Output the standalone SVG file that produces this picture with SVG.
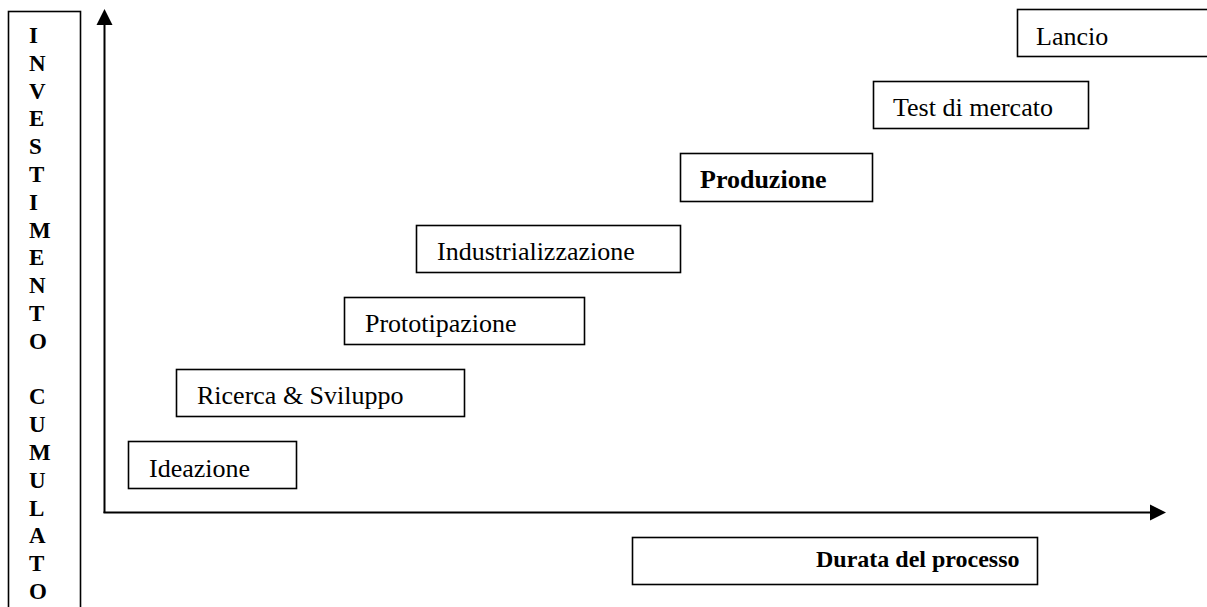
<svg xmlns="http://www.w3.org/2000/svg" width="1207" height="607" viewBox="0 0 1207 607">
<style>
.box{fill:#fff;stroke:#000;stroke-width:1.6}
.t{font-family:"Liberation Serif","Times New Roman",serif;font-size:26px;fill:#000}
.b{font-weight:bold}
.v{font-family:"Liberation Serif","Times New Roman",serif;font-size:23px;font-weight:bold;fill:#000}
.ax{stroke:#000;stroke-width:2;fill:none}
</style>
<defs>
<clipPath id="clipDur"><rect x="633" y="538" width="404" height="34"/></clipPath>
</defs>
<rect width="1207" height="607" fill="#fff"/>
<g id="yLabel">
<rect class="box" x="8.5" y="11.5" width="72" height="610"/>
<text class="v" x="29" y="43">I</text>
<text class="v" x="29" y="70.8">N</text>
<text class="v" x="29" y="98.6">V</text>
<text class="v" x="29" y="126.4">E</text>
<text class="v" x="29" y="154.2">S</text>
<text class="v" x="29" y="182">T</text>
<text class="v" x="29" y="209.8">I</text>
<text class="v" x="29" y="237.6">M</text>
<text class="v" x="29" y="265.4">E</text>
<text class="v" x="29" y="293.2">N</text>
<text class="v" x="29" y="321">T</text>
<text class="v" x="29" y="348.8">O</text>
<text class="v" x="29" y="404.4">C</text>
<text class="v" x="29" y="432.2">U</text>
<text class="v" x="29" y="460">M</text>
<text class="v" x="29" y="487.8">U</text>
<text class="v" x="29" y="515.6">L</text>
<text class="v" x="29" y="543.4">A</text>
<text class="v" x="29" y="571.2">T</text>
<text class="v" x="29" y="599">O</text>
</g>
<g id="connectors">
<path class="ax" d="M104.5,513 V24"/>
<polygon points="104.5,9 96.5,25 112.5,25" fill="#000"/>
<path class="ax" d="M103.5,512.5 H1150"/>
<polygon points="1166,512.5 1150,504.5 1150,520.5" fill="#000"/>
</g>
<g id="ideazione">
<rect class="box" x="128.5" y="441.5" width="168" height="47"/>
<text class="t" x="149" y="477">Ideazione</text>
</g>
<g id="ricerca">
<rect class="box" x="176.5" y="369.5" width="288" height="47"/>
<text class="t" x="197" y="404">Ricerca &amp; Sviluppo</text>
</g>
<g id="prototipazione">
<rect class="box" x="344.5" y="297.5" width="240" height="47"/>
<text class="t" x="365" y="332">Prototipazione</text>
</g>
<g id="industrializzazione">
<rect class="box" x="416.5" y="225.5" width="264" height="47"/>
<text class="t" x="437" y="260">Industrializzazione</text>
</g>
<g id="produzione">
<rect class="box" x="680.5" y="153.5" width="192" height="48"/>
<text class="t b" x="700" y="188">Produzione</text>
</g>
<g id="test">
<rect class="box" x="873.5" y="81.5" width="215" height="47"/>
<text class="t" x="893" y="116">Test di mercato</text>
</g>
<g id="lancio">
<rect class="box" x="1017.5" y="9.5" width="200" height="47"/>
<text class="t" x="1036" y="45">Lancio</text>
</g>
<g id="durata">
<rect class="box" x="632.5" y="537.5" width="405" height="47"/>
<text class="t b" x="816" y="567" clip-path="url(#clipDur)" style="font-size:24px">Durata del processo</text>
</g>
</svg>
